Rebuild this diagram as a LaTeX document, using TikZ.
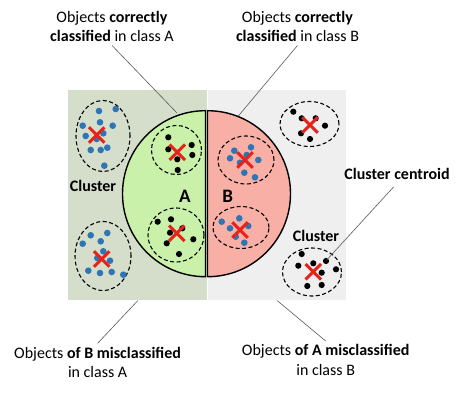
\documentclass[tikz,border=0pt]{standalone}
\usepackage{fontspec}
\setmainfont{Carlito}
\usepackage{xcolor}
\usepackage{tikz}
\usetikzlibrary{positioning,shapes.geometric,shapes.misc}
\definecolor{figBlue}{HTML}{2E75B6}
\definecolor{figRed}{HTML}{E5231B}
\definecolor{figGray}{HTML}{595959}
\definecolor{figPanelA}{HTML}{D5DDCB}
\definecolor{figPanelB}{HTML}{EFEFEF}
\definecolor{figClassA}{HTML}{C9F1AA}
\definecolor{figClassB}{HTML}{F8AFA6}

\begin{document}
\begin{tikzpicture}[
  x=1pt, y=-1pt,
  cluster/.style={
    ellipse, draw=black, line width=1.1pt,
    dash pattern=on 4pt off 2.5pt, inner sep=0pt
  },
  centroid/.style={
    cross out, draw=figRed, line width=3pt,
    minimum size=12.5pt, inner sep=0pt
  },
  note/.style={font=\fontsize{16}{19.5}\selectfont, align=center},
  tag/.style={font=\fontsize{16}{18}\selectfont\bfseries},
  classname/.style={font=\fontsize{19}{21}\selectfont\bfseries},
  leader/.style={figGray, line width=0.6pt}
]
\useasboundingbox (0,0) rectangle (474,393);

% Panels
\fill[figPanelA] (68,90) rectangle (206.5,300);
\fill[figPanelB] (207.5,90) rectangle (346,300);

% Classes
\draw[fill=figClassA, line width=1.4pt]
  (205.5,110.7) arc[start angle=90, end angle=270, radius=83pt] -- cycle;
\draw[fill=figClassB, line width=1.4pt]
  (207.5,110.7) arc[start angle=90, end angle=-90, radius=83pt] -- cycle;
\node[classname] (nameA) at (185,196) {A};
\node[classname] (nameB) at (227.7,196) {B};

% Clusters
\node[cluster, minimum width=54pt, minimum height=71pt] (lt) at (103,136) {};
\node[cluster, minimum width=56pt, minimum height=69pt] (lb) at (103,256) {};
\node[cluster, minimum width=50pt, minimum height=49pt] (at) at (176.5,150) {};
\node[cluster, minimum width=56pt, minimum height=54pt] (ab) at (176,235) {};
\node[cluster, minimum width=56pt, minimum height=48pt] (bt) at (246,160) {};
\node[cluster, minimum width=56pt, minimum height=42pt] (bb) at (241,227.5) {};
\node[cluster, minimum width=59pt, minimum height=45pt] (rt) at (309.5,124) {};
\node[cluster, minimum width=59pt, minimum height=48pt] (rb) at (312,272) {};

% Objects of B
\foreach \p in {(99,111),(115.7,109),(82.7,125.7),(100,122.3),(112.7,125.7),
    (85.7,136),(103.3,133.3),(96.7,139),(107.3,147.7),(90.7,150),(100.7,150),
    (104.3,165.7),
    (90.7,235.3),(107.3,233),(82.7,243.7),(100.7,241.3),(103.3,251.3),
    (97.3,258),(110,260.7),(88.3,270.7),(100,273),(111.7,272),(123.3,274.7),
    (234.3,150.7),(251,147.3),(246.7,155),(230,158.3),(258.3,160),(240,162.7),
    (244.3,172.7),(255,177.3),
    (221.7,221.7),(239.3,218.3),(230,228.3),(248.3,226),(235.7,236.7),
    (244.3,242.7)}
  \fill[figBlue] \p circle (3.3pt);

% Objects of A
\foreach \p in {(168.3,137.3),(191.7,145),(168.3,149.3),(192.3,155),
    (177.3,159.3),(177.7,170),
    (157.7,221.7),(171,219.3),(170,232.7),(182.3,228.3),(193.3,239.3),
    (166.7,243.3),(179,254),
    (293.3,111.7),(301.7,118.3),(315.7,118.3),(325,125.7),(301,133.3),(310,139),
    (301.7,254),(298.3,265.7),(313.3,263.3),(326,261),(336,269.3),
    (321.7,272.7),(307.3,286),(321.7,285)}
  \fill[black] \p circle (3.1pt);

% Centroids
\node[centroid] (clt) at (96.7,135) {};
\node[centroid] (clb) at (101.7,259) {};
\node[centroid] (cat) at (177.3,152.3) {};
\node[centroid] (cab) at (176.7,233.3) {};
\node[centroid] (cbt) at (245,160) {};
\node[centroid] (cbb) at (240,230) {};
\node[centroid] (crt) at (310,125) {};
\node[centroid] (crb) at (313.3,271.7) {};

% Labels
\node[note] (okA) at (112,26.5) {Objects \textbf{correctly}\\\textbf{classified} in class A};
\node[note] (okB) at (297.5,26.5) {Objects \textbf{correctly}\\\textbf{classified} in class B};
\node[note] (missB) at (97.6,362.3) {Objects \textbf{of B misclassified}\\in class A};
\node[note] (missA) at (325.7,360) {Objects \textbf{of A misclassified}\\in class B};
\node[tag] (centr) at (397,174) {Cluster centroid};
\node[tag] (clusL) at (93,186) {Cluster};
\node[tag] (clusR) at (316,236) {Cluster};

% Leaders
\coordinate (pA) at (177,113);
\coordinate (pB) at (238.3,116);
\coordinate (pBA) at (137.7,300.7);
\coordinate (pAB) at (277.3,300.7);
\coordinate (pC) at (326.7,260);
\draw[leader] (okA.south) -- (pA);
\draw[leader] (okB.south) -- (pB);
\draw[leader] (missB.north) -- (pBA);
\draw[leader] (missA.north) -- (pAB);
\draw[leader, shorten <=5pt] (centr.south) -- (pC);

\end{tikzpicture}
\end{document}
